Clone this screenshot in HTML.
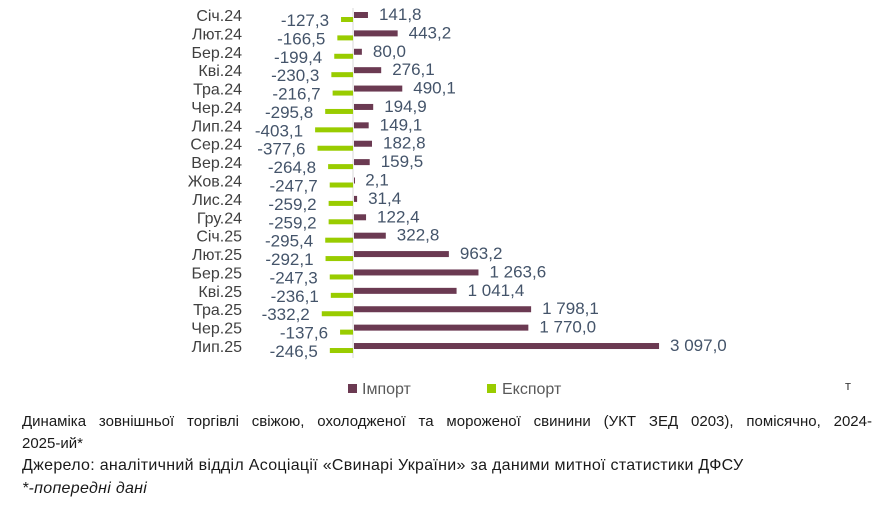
<!DOCTYPE html>
<html><head><meta charset="utf-8"><style>
body{margin:0;background:#fff;width:896px;height:509px;overflow:hidden;font-family:"Liberation Sans",sans-serif;}
.cap{position:absolute;left:22px;width:850px;font-size:15px;color:#1a1a1a;line-height:22px;white-space:nowrap;}
</style></head><body>
<svg width="896" height="400" style="position:absolute;left:0;top:0" font-family="Liberation Sans, sans-serif">
<line x1="353" y1="8" x2="353" y2="358" stroke="#d9d9d9" stroke-width="1"/>
<g id="g"></g>
<rect x="348" y="384" width="9" height="9" fill="#6b3a52"/>
<text x="362" y="394" font-size="16" fill="#595959">Імпорт</text>
<rect x="487" y="384" width="9" height="9" fill="#99cc00"/>
<text x="502" y="394" font-size="16" fill="#595959">Експорт</text>
<text x="845" y="390" font-size="13" fill="#404040">т</text>
</svg>
<div class="cap" style="top:411px;text-align:justify;text-align-last:justify;white-space:normal">Динаміка зовнішньої торгівлі свіжою, охолодженої та мороженої свинини (УКТ ЗЕД 0203), помісячно, 2024-</div>
<div class="cap" style="top:433px">2025-ий*</div>
<div class="cap" style="top:455px;font-size:16px;letter-spacing:0.3px">Джерело: аналітичний відділ Асоціації «Свинарі України» за даними митної статистики ДФСУ</div>
<div class="cap" style="top:478px;font-style:italic;font-size:16px;letter-spacing:0.3px">*-попередні дані</div>
<script>
var d=[["Січ.24",-127.3,141.8],["Лют.24",-166.5,443.2],["Бер.24",-199.4,80.0],["Кві.24",-230.3,276.1],["Тра.24",-216.7,490.1],["Чер.24",-295.8,194.9],["Лип.24",-403.1,149.1],["Сер.24",-377.6,182.8],["Вер.24",-264.8,159.5],["Жов.24",-247.7,2.1],["Лис.24",-259.2,31.4],["Гру.24",-259.2,122.4],["Січ.25",-295.4,322.8],["Лют.25",-292.1,963.2],["Бер.25",-247.3,1263.6],["Кві.25",-236.1,1041.4],["Тра.25",-332.2,1798.1],["Чер.25",-137.6,1770.0],["Лип.25",-246.5,3097.0]];
function f(v){var s=Math.abs(v).toFixed(1).replace('.',',');var p=s.split(',');p[0]=p[0].replace(/\B(?=(\d{3})+(?!\d))/g,' ');return (v<0?'-':'')+p[0]+','+p[1];}
var h='';
d.forEach(function(r,i){var y=15+i*18.39;
var ew=-r[1]*0.094, iw=r[2]*0.0985;
h+='<text x="242" y="'+(y+6)+'" font-size="16" fill="#404040" text-anchor="end">'+r[0]+'</text>';
h+='<rect x="354" y="'+(y-3)+'" width="'+Math.max(iw,1)+'" height="6" fill="#6b3a52"/>';
h+='<rect x="'+(353-ew)+'" y="'+(y+2)+'" width="'+ew+'" height="5" fill="#99cc00"/>';
h+='<text x="'+(354+iw+11)+'" y="'+(y+5)+'" font-size="17" fill="#44546a">'+f(r[2])+'</text>';
h+='<text x="'+(353-ew-12)+'" y="'+(y+11)+'" font-size="17" fill="#44546a" text-anchor="end">'+f(r[1])+'</text>';
});
document.getElementById('g').innerHTML=h;
</script>
</body></html>
